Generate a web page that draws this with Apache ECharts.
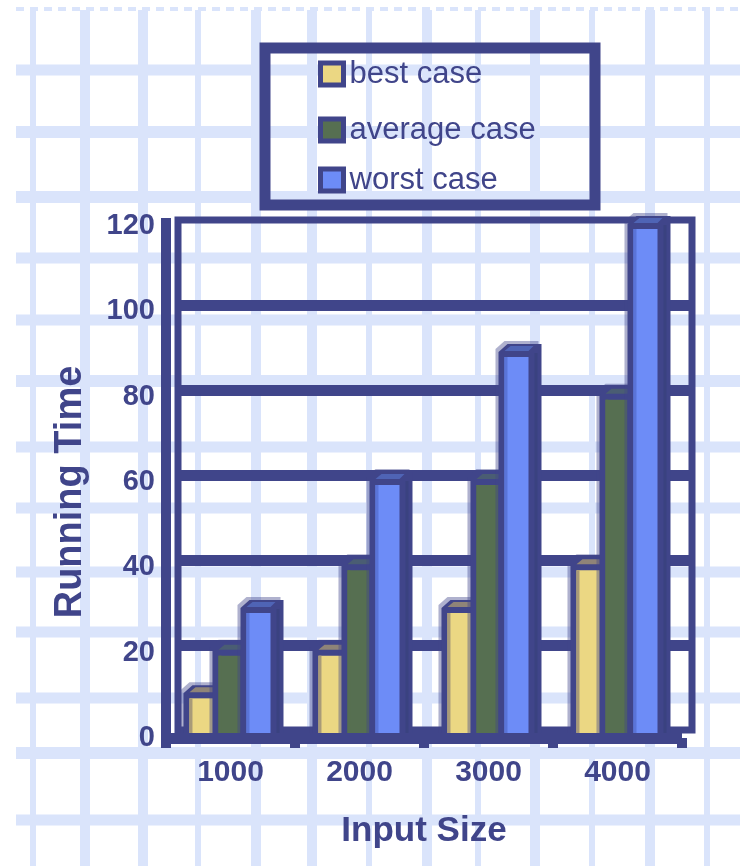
<!DOCTYPE html>
<html>
<head>
<meta charset="utf-8">
<style>html,body{margin:0;padding:0;background:#fff}#chart{width:740px;height:866px}</style>
<script src="https://cdn.jsdelivr.net/npm/echarts@6/dist/echarts.min.js"></script>
</head>
<body>
<div id="chart"></div>
<script>
// Running time of an algorithm against input size
const inputSizes = ['1000', '2000', '3000', '4000'];
const bestCase = [10, 20, 30, 40];
const averageCase = [20, 40, 60, 80];
const worstCase = [30, 60, 90, 120];

const INK = '#40458a';
const PAPER_LINE = '#dae4fb';
const FONT = '"Liberation Sans", Arial, sans-serif';

// Graph-paper backdrop: position / stroke width pairs
const paperColumns = [[33,6],[85,10],[143,10],[198,6],[256,10],[312,10],[369,6],[427,10],[478,6],[535,10],[592,6],[650,10],[707,6]];
const paperRows = [[70,11],[132,12],[197,12],[258,11],[320,11],[381,12],[447,11],[508,11],[572,11],[632,11],[698,11],[753,12],[820,11]];

const backdrop = [];
paperColumns.forEach(([x, w]) => backdrop.push({
  type: 'line', silent: true, z: -10,
  shape: {x1: x, y1: 10, x2: x, y2: 866},
  style: {stroke: PAPER_LINE, lineWidth: w}
}));
paperRows.forEach(([y, w]) => backdrop.push({
  type: 'line', silent: true, z: -10,
  shape: {x1: 16, y1: y, x2: 740, y2: y},
  style: {stroke: PAPER_LINE, lineWidth: w}
}));
backdrop.push({
  type: 'line', silent: true, z: -10,
  shape: {x1: 16, y1: 9, x2: 740, y2: 9},
  style: {stroke: PAPER_LINE, lineWidth: 4, lineDash: [8, 6]}
});
// Frame around the legend, open to the paper behind it
backdrop.push({
  type: 'rect', silent: true, z: 1,
  shape: {x: 265, y: 48, width: 330, height: 157},
  style: {fill: 'transparent', stroke: INK, lineWidth: 11}
});
// Top of the front vertical rail, which runs up to the wall's upper edge
backdrop.push({
  type: 'rect', silent: true, z: 3,
  shape: {x: 161, y: 218, width: 10, height: 14},
  style: {fill: INK}
});

// Extruded bar: dark silhouette with a top face, then the lit front face
function extrudedBar(offset, colors) {
  return function (params, api) {
    const i = api.value(0);
    const top = api.coord([i, api.value(1)]);
    const base = api.coord([i, 0]);
    const band = api.size([1, 0])[0];
    const cx = top[0] + offset * band;
    const half = colors.halfWidth;
    const l = cx - half, r = cx + half;
    const y = top[1];
    const fTop = y + 3;
    const fBot = base[1] - 5;
    const sil = [[l - 6, fBot], [l - 6, y - 2], [l + 3, y - 10], [r + 13, y - 10], [r + 13, fBot]];
    const halo = sil.map(p => [p[0] - 3, p[1] - (p[1] < fBot ? 3 : 0)]);
    const children = [
      {type: 'polygon', shape: {points: halo}, style: {fill: 'rgba(64,69,138,0.42)'}},
      {type: 'polygon', shape: {points: sil}, style: {fill: INK}},
      {type: 'polygon', shape: {points: [[l, y - 3], [l + 6, y - 8], [r + 5, y - 8], [r, y - 3]]}, style: {fill: colors.cap}},
      {type: 'rect', shape: {x: r + 6, y: fTop - 4, width: 3, height: fBot - fTop + 4}, style: {fill: '#3a4280'}},
      {type: 'rect', shape: {x: l, y: fTop, width: r - l, height: fBot - fTop}, style: {fill: colors.face}},
      {type: 'rect', shape: {x: l, y: fTop, width: 3, height: fBot - fTop}, style: {fill: colors.edge}}
    ];
    return {type: 'group', children};
  };
}

function barSeries(name, values, offset, colors) {
  return {
    name, type: 'custom', xAxisIndex: 1, yAxisIndex: 1, z: 5, clip: false,
    itemStyle: {color: colors.face},
    encode: {x: 0, y: 1},
    data: values.map((v, i) => [i, v]),
    renderItem: extrudedBar(offset, colors)
  };
}

function legendEntry(name, centerY, textDrop) {
  return {
    data: [name], orient: 'vertical', left: 318, top: centerY - 17, padding: 0,
    icon: 'rect', itemWidth: 23, itemHeight: 22, selectedMode: false, z: 4,
    itemStyle: {borderColor: INK, borderWidth: 5},
    textStyle: {color: INK, fontFamily: FONT, fontSize: 31, lineHeight: 34, padding: [textDrop * 2, 0, 0, 1]}
  };
}

const chart = echarts.init(document.getElementById('chart'), null, {renderer: 'canvas'});
chart.setOption({
  animation: false,
  backgroundColor: '#fff',
  graphic: backdrop,
  legend: [
    legendEntry('best case', 74, 0),
    legendEntry('average case', 125, 5),
    legendEntry('worst case', 177, 3)
  ],
  grid: [
    // back wall, set up and to the right of the front plane
    {left: 178, right: 48, top: 220, bottom: 136, show: true, backgroundColor: 'transparent', borderColor: INK, borderWidth: 7, z: 2},
    // front plane carrying the bars and the labelled axes
    {left: 166, right: 58, top: 226, bottom: 128}
  ],
  xAxis: [
    {gridIndex: 0, type: 'category', data: inputSizes, show: false},
    {
      gridIndex: 1, type: 'category', data: inputSizes, z: 3,
      name: 'Input Size', nameLocation: 'middle', nameGap: 76,
      nameTextStyle: {color: INK, fontFamily: FONT, fontSize: 35, fontWeight: 'bold'},
      axisLine: {lineStyle: {color: INK, width: 11, cap: 'butt'}},
      axisTick: {show: true, length: 10, lineStyle: {color: INK, width: 10}},
      axisLabel: {color: INK, fontFamily: FONT, fontSize: 30, fontWeight: 'bold', margin: 20}
    }
  ],
  yAxis: [
    {
      gridIndex: 0, type: 'value', min: 0, max: 120, interval: 20, z: 2,
      axisLine: {show: false}, axisTick: {show: false}, axisLabel: {show: false},
      splitLine: {show: true, showMinLine: false, showMaxLine: false, lineStyle: {color: INK, width: 11}}
    },
    {
      gridIndex: 1, type: 'value', min: 0, max: 120, interval: 20, z: 3,
      name: 'Running Time', nameLocation: 'middle', nameGap: 76, nameRotate: 90,
      nameTextStyle: {color: INK, fontFamily: FONT, fontSize: 38, fontWeight: 'bold', padding: [0, 20, 0, 0]},
      axisLine: {show: true, lineStyle: {color: INK, width: 10, cap: 'butt'}},
      axisTick: {show: false},
      axisLabel: {color: INK, fontFamily: FONT, fontSize: 29, fontWeight: 'bold', margin: 11},
      splitLine: {show: false}
    }
  ],
  series: [
    barSeries('best case', bestCase, -0.225, {halfWidth: 12, face: '#ebd783', edge: '#a89a78', cap: '#8f8478'}),
    barSeries('average case', averageCase, -0.008, {halfWidth: 11, face: '#566f51', edge: '#566f51', cap: '#4a5d73'}),
    barSeries('worst case', worstCase, 0.217, {halfWidth: 12, face: '#6d8cf7', edge: '#5a74d8', cap: '#4f64b5'})
  ]
});
</script>
</body>
</html>
